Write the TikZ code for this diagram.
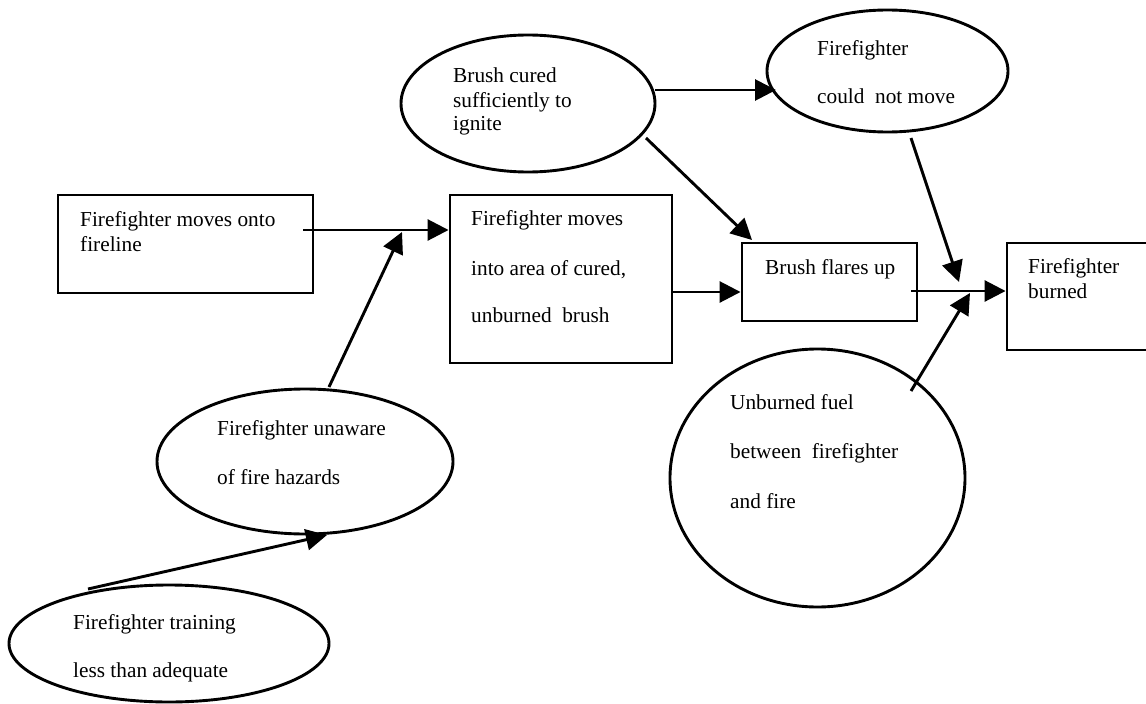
\documentclass[tikz,border=0pt]{standalone}
\usepackage{fontspec}
\setmainfont{Liberation Serif}
\usetikzlibrary{shapes.geometric,arrows.meta}
\begin{document}
\begin{tikzpicture}[x=1pt,y=-1pt,
  box/.style={draw,line width=2.9pt,rectangle,inner sep=0pt},
  oval/.style={draw,line width=2.9pt,ellipse,inner sep=0pt},
  txt/.style={anchor=base west,inner sep=0pt,font=\fontsize{21.3}{24}\selectfont},
  arr/.style={line width=2.9pt,-{Triangle[length=21pt,width=21pt]}}]
\useasboundingbox (0,0) rectangle (1146,704);

% boxes
\node[box,minimum width=255pt,minimum height=98pt]  (r1) at (185.5,244) {};
\node[box,minimum width=222pt,minimum height=168pt] (r2) at (561,279) {};
\node[box,minimum width=175pt,minimum height=78pt]  (r3) at (829.5,282) {};
\node[box,minimum width=153pt,minimum height=107pt] (r4) at (1083.5,296.5) {};

% ovals
\node[oval,minimum width=254pt,minimum height=137pt] (brush) at (528,103.5) {};
\node[oval,minimum width=241pt,minimum height=122pt] (stuck) at (887.5,71) {};
\node[oval,minimum width=296pt,minimum height=145pt] (unaware) at (305,461.5) {};
\node[oval,minimum width=320pt,minimum height=117pt] (training) at (169,643.5) {};
\node[oval,minimum width=295pt,minimum height=258pt] (fuel) at (817.5,478) {};

% labels
\node[txt] (r1a) at (80,226) {Firefighter moves onto};
\node[txt] (r1b) at (80,251) {fireline};
\node[txt] (r2a) at (471,225) {Firefighter moves};
\node[txt] (r2b) at (471,275) {into area of cured,};
\node[txt] (r2c) at (471,322) {unburned\ \ brush};
\node[txt] (r3a) at (765,274) {Brush flares up};
\node[txt] (r4a) at (1028,273) {Firefighter};
\node[txt] (r4b) at (1028,298) {burned};
\node[txt] (ba) at (453,82) {Brush cured};
\node[txt] (bb) at (453,107) {sufficiently to};
\node[txt] (bc) at (453,130) {ignite};
\node[txt] (sa) at (817,55) {Firefighter};
\node[txt] (sb) at (817,103) {could\ \ not move};
\node[txt] (ua) at (217,435) {Firefighter unaware};
\node[txt] (ub) at (217,484) {of fire hazards};
\node[txt] (ta) at (73,629) {Firefighter training};
\node[txt] (tb) at (73,677) {less than adequate};
\node[txt] (fa) at (730,409) {Unburned\ fuel};
\node[txt] (fb) at (730,458) {between\ \ firefighter};
\node[txt] (fc) at (730,508) {and fire};

% connector end points
\coordinate (s1) at (303,230);
\coordinate (j1) at (402,232);
\coordinate (s2) at (329,387);
\coordinate (s3) at (88,589);
\coordinate (e3) at (327,535);
\coordinate (s4) at (672,292);
\coordinate (s5) at (655,90);
\coordinate (e5) at (776,90);
\coordinate (s6) at (646,138);
\coordinate (e6) at (752,240);
\coordinate (s7) at (911,138);
\coordinate (j2) at (959,282);
\coordinate (s8) at (911,291);
\coordinate (s9) at (911,391);
\coordinate (j3) at (970,293);

% connectors
\draw[arr] (s1) -- (r2.west |- s1);
\draw[arr] (s2) -- (j1);
\draw[arr] (s3) -- (e3);
\draw[arr] (s4) -- (r3.west |- s4);
\draw[arr] (s5) -- (e5);
\draw[arr] (s6) -- (e6);
\draw[arr] (s7) -- (j2);
\draw[arr] (s8) -- (r4.west |- s8);
\draw[arr] (s9) -- (j3);
\end{tikzpicture}
\end{document}
